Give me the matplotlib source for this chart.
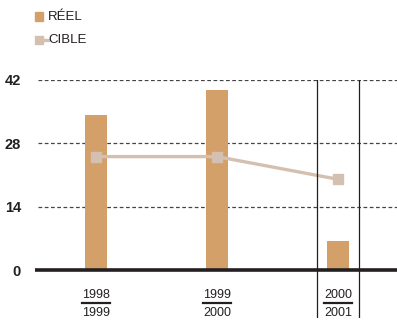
import matplotlib.pyplot as plt
from matplotlib.patches import Rectangle
from matplotlib.lines import Line2D

periods_top = ["1998", "1999", "2000"]
periods_bottom = ["1999", "2000", "2001"]
reel = [34.2, 39.7, 6.4]
cible = [25.0, 25.0, 20.0]
yticks = [0, 14, 28, 42]

BAR = "#D4A06A"
LINE = "#D4C0B1"
DARK = "#231F20"

plt.rcParams["font.family"] = ["Liberation Sans", "DejaVu Sans"]

W, H = 397, 320
fig = plt.figure(figsize=(W / 100, H / 100), dpi=100)
ax = fig.add_axes([35 / W, 2 / H, 1 - 35 / W, 238.5 / H])

x = list(range(len(reel)))
ax.set_xlim(-0.504, 2.488)
ax.set_ylim(-10.58, 42)

# dashed grid lines
for t in yticks[1:]:
    ax.hlines(t, -0.48, 2.488, colors="#444444", linestyles=(0, (3, 2)), linewidth=0.9, zorder=1)

ax.bar(x, reel, width=0.18, color=BAR, zorder=2)
ax.plot(x, cible, color=LINE, linewidth=2.4, marker="s", markersize=6.5, zorder=3)

# zero axis line
ax.axhline(0, color=DARK, linewidth=2.6, zorder=4)

# vertical separators around last period
for xv in (1.826, 2.174):
    ax.axvline(xv, color=DARK, linewidth=0.9, zorder=4)

ax.set_yticks(yticks)
ax.set_yticklabels([str(t) for t in yticks], fontweight="bold", fontsize=10.5, color=DARK)
ax.tick_params(axis="y", length=0, pad=10)
ax.set_xticks([])
for s in ax.spines.values():
    s.set_visible(False)

# period labels, written as fractions
for xi, a, b in zip(x, periods_top, periods_bottom):
    ax.text(xi, -5.6, a, ha="center", va="center", fontsize=9, color=DARK)
    ax.text(xi, -9.5, b, ha="center", va="center", fontsize=9, color=DARK)
    ax.plot([xi - 0.117, xi + 0.117], [-7.35, -7.35], color=DARK, linewidth=1.6, clip_on=False)

# legend
fig.add_artist(Rectangle((35 / W, 1 - 20.5 / H), 8 / W, 8 / H, transform=fig.transFigure, color=BAR))
fig.text(48 / W, 1 - 16.5 / H, "RÉEL", fontsize=9.5, va="center", color=DARK)
fig.add_artist(Line2D([39 / W, 48 / W], [1 - 40 / H, 1 - 40 / H], transform=fig.transFigure,
                      color=LINE, linewidth=2.4))
fig.add_artist(Line2D([39 / W], [1 - 40 / H], transform=fig.transFigure, color=LINE,
                      marker="s", markersize=6, linestyle="none"))
fig.text(48 / W, 1 - 40 / H, "CIBLE", fontsize=9.5, va="center", color=DARK)

fig.savefig("out.png", dpi=100)
